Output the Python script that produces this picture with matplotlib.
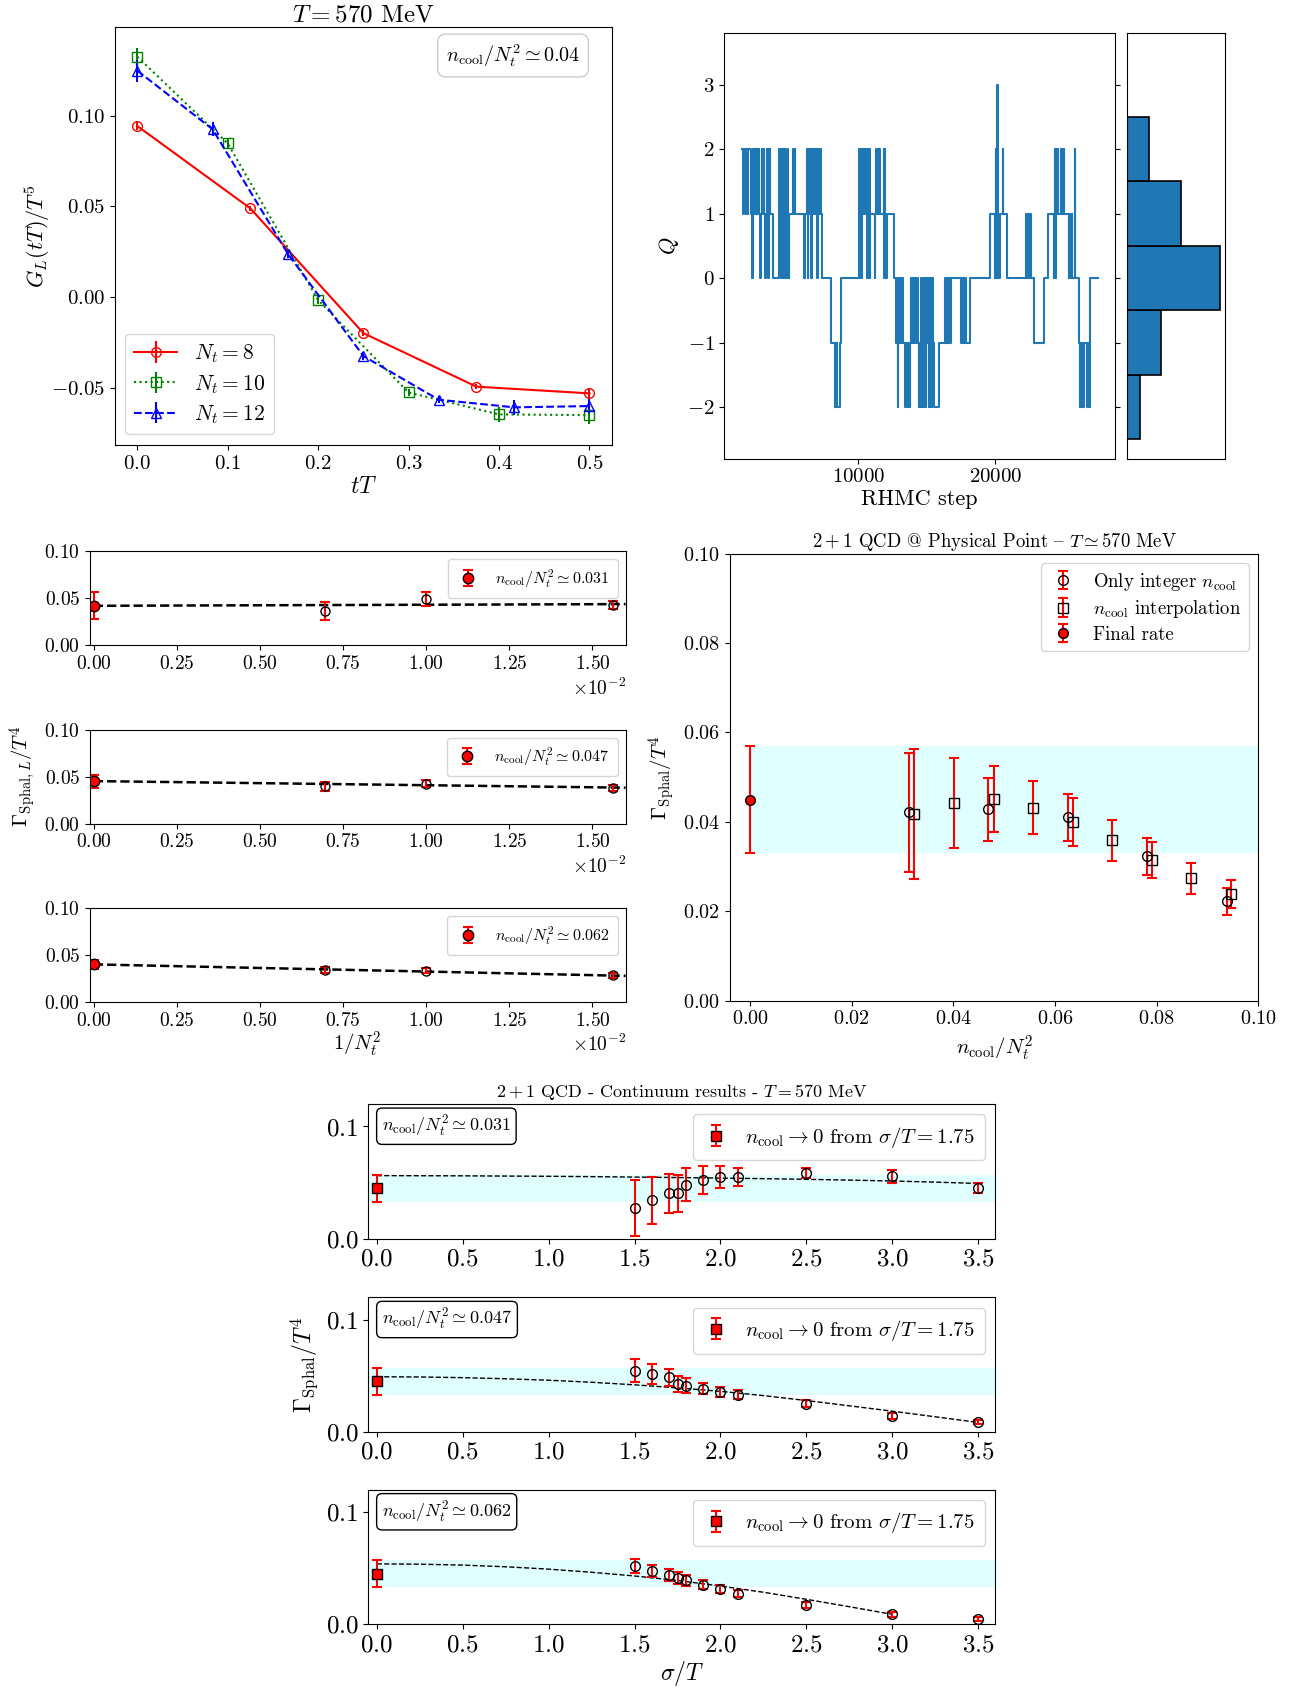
import numpy as np
import matplotlib
matplotlib.use('Agg')
import matplotlib.pyplot as plt
from matplotlib.ticker import ScalarFormatter

plt.rcParams['font.family'] = ['cmr10', 'DejaVu Serif']
plt.rcParams['mathtext.fontset'] = 'cm'
plt.rcParams['axes.formatter.use_mathtext'] = True

# ---------------- top left: G_L(tT)/T^5 ----------------
tT_8 = [0.0, 0.125, 0.25, 0.375, 0.5]
G_8 = [0.0943, 0.0489, -0.0199, -0.0494, -0.0531]
G_8_err = [0.0025, 0.0015, 0.0015, 0.0015, 0.0025]
tT_10 = [0.0, 0.1, 0.2, 0.3, 0.4, 0.5]
G_10 = [0.1325, 0.0847, -0.0017, -0.0526, -0.0647, -0.0651]
G_10_err = [0.005, 0.003, 0.002, 0.002, 0.004, 0.005]
tT_12 = [0.0, 0.0833, 0.1667, 0.25, 0.3333, 0.4167, 0.5]
G_12 = [0.1248, 0.0925, 0.0237, -0.0325, -0.0566, -0.0608, -0.0601]
G_12_err = [0.006, 0.004, 0.002, 0.002, 0.002, 0.004, 0.004]

# ---------------- top right: topological charge history ----------------
q_step = [1500, 1600, 1650, 1800, 1850, 1930, 1970, 2180, 2230, 2270, 2310, 2350,
          2390, 2430, 2470, 2510, 2550, 2590, 2630, 2670, 2710, 2750, 2830, 2870,
          2950, 2990, 3060, 3100, 3200, 3240, 3300, 3340, 3380, 3430, 3470, 3510,
          3550, 3760, 4230, 4270, 4310, 4350, 4390, 4430, 4470, 4510, 4550, 4590,
          4630, 4670, 4710, 4750, 4790, 4830, 4870, 4910, 4950, 5220, 5260, 5340,
          5380, 6030, 6080, 6250, 6290, 6330, 6370, 6410, 6450, 6490, 6540, 6580,
          6620, 6660, 6700, 6740, 6780, 6820, 6860, 6900, 6940, 6980, 7020, 7060,
          7100, 7140, 7190, 7230, 7340, 8020, 8260, 8300, 8340, 8420, 8460, 8630,
          8750, 10070, 10110, 10150, 10190, 10230, 10270, 10310, 10350, 10390, 10430, 10470,
          10510, 10550, 10590, 10630, 10670, 10710, 10750, 10790, 10830, 10870, 11180, 11230,
          11280, 11320, 11360, 11400, 11440, 11480, 11520, 11560, 11840, 11880, 11920, 11960,
          12000, 12040, 12090, 12570, 12740, 12780, 12820, 12860, 12900, 12940, 12980, 13020,
          13060, 13100, 13140, 13180, 13220, 13420, 13460, 13500, 13540, 13580, 13620, 13660,
          13700, 13740, 13780, 13860, 13900, 13940, 13980, 14030, 14070, 14110, 14150, 14190,
          14230, 14270, 14310, 14400, 14440, 14480, 14520, 14560, 14600, 14640, 14680, 14720,
          14760, 14800, 14840, 14880, 14920, 14960, 15000, 15040, 15080, 15120, 15160, 15200,
          15240, 15280, 15320, 15360, 15400, 15440, 15490, 15860, 16340, 16380, 16420, 16460,
          16500, 16540, 16580, 16620, 16660, 16700, 16780, 17510, 17550, 17590, 17630, 17670,
          17710, 17750, 17790, 17830, 18170, 19630, 19950, 19990, 20030, 20070, 20110, 20150,
          20190, 20230, 20270, 20310, 20540, 20570, 20850, 22230, 22270, 22310, 22350, 22390,
          22430, 22470, 22510, 22550, 22600, 22790, 23570, 23840, 24250, 24290, 24330, 24370,
          24410, 24450, 24490, 24530, 24570, 24810, 24850, 24890, 24930, 24970, 25010, 25350,
          25390, 25430, 25470, 25510, 25550, 25590, 25800, 25840, 26120, 26160, 26200, 26240,
          26280, 26320, 26360, 26400, 26440, 26690, 26730, 26770, 26810, 26850, 26890, 26930,
          27490]
q_val = [2, 1, 2, 1, 2, 1, 2, 1, 0, 1, 2, 1,
         2, 1, 2, 1, 2, 1, 2, 1, 2, 1, 0, 1,
         2, 1, 2, 1, 0, 1, 2, 1, 2, 0, 1, 2,
         1, 0, 2, 1, 2, 0, 2, 1, 0, 2, 0, 1,
         2, 0, 1, 0, 2, 0, 1, 0, 1, 2, 1, 2,
         1, 0, 1, 2, 0, 1, 2, 1, 2, 1, 0, 2,
         1, 2, 1, 2, 1, 2, 1, 2, 1, 0, 2, 1,
         2, 1, 2, 1, 0, -1, -2, -1, -2, -1, -2, -1,
         0, 2, 0, 2, 1, 0, 2, 1, 2, 1, 2, 1,
         2, 1, 2, 0, 2, 1, 0, 2, 0, 1, 0, 1,
         2, 1, 2, 1, 2, 1, 2, 1, 2, 0, 2, 0,
         1, 0, 1, 0, -1, 0, -1, -2, -1, 0, -1, 0,
         -1, 0, -1, 0, -1, -2, -1, -2, -1, -2, -1, -2,
         -1, -2, -1, 0, -1, 0, -1, 0, -1, 0, -1, 0,
         -1, 0, -1, -2, -1, -2, -1, 0, -2, -1, -2, 0,
         -1, -2, 0, -1, -2, 0, -1, 0, -1, -2, 0, -1,
         -2, 0, -1, -2, 0, -1, -2, -1, 0, -1, 0, -1,
         0, -1, 0, -1, 0, -1, 0, -1, 0, -1, 0, -1,
         0, -1, 0, -1, 0, 1, 0, 1, 2, 0, 3, 1,
         0, 1, 0, 1, 2, 1, 0, 1, 0, 1, 0, 1,
         0, 1, 0, 1, 0, -1, 0, 1, 0, 1, 2, 0,
         1, 2, 1, 2, 1, 2, 1, 2, 1, 2, 1, 0,
         1, 0, 1, 0, 1, 0, 2, 0, -1, -2, -1, -2,
         -1, -2, -1, -2, -1, -2, -1, -2, -1, -2, -1, 0,
         0]
q_bins = [-2, -1, 0, 1, 2, 3]
q_hist = [0.0615, 0.158, 0.427, 0.250, 0.102, 0.002]

# ---------------- middle left: continuum limit at fixed n_cool ----------------
inv_nt2 = [0.0, 0.006944, 0.01, 0.015625]
rate_031 = [0.0420, 0.0361, 0.0493, 0.0431]
err_031 = [0.0142, 0.0097, 0.0077, 0.0044]
rate_047 = [0.0453, 0.0398, 0.0427, 0.0380]
err_047 = [0.0069, 0.0047, 0.0040, 0.0030]
rate_062 = [0.0401, 0.0342, 0.0335, 0.0283]
err_062 = [0.0050, 0.0030, 0.0030, 0.0025]
fit_inv_x = [0.0, 0.016]
fit_031 = [0.0420, 0.0438]
fit_047 = [0.0453, 0.0383]
fit_062 = [0.0401, 0.0279]

# ---------------- middle right: n_cool dependence ----------------
int_x = [0.03125, 0.046875, 0.0625, 0.078125, 0.09375]
int_y = [0.0422, 0.0428, 0.0410, 0.0323, 0.0222]
int_err = [0.0133, 0.0070, 0.0053, 0.0042, 0.0030]
interp_x = [0.0323, 0.0401, 0.0479, 0.0557, 0.0635, 0.0712, 0.0790, 0.0868, 0.0946]
interp_y = [0.0418, 0.0443, 0.0451, 0.0432, 0.0400, 0.0359, 0.0315, 0.0274, 0.0238]
interp_err = [0.0145, 0.0101, 0.0074, 0.0060, 0.0053, 0.0046, 0.0041, 0.0035, 0.0031]
final_rate = 0.045
final_err = 0.012

# ---------------- bottom: smoothing-radius dependence ----------------
sigma = [1.5, 1.6, 1.7, 1.75, 1.8, 1.9, 2.0, 2.1, 2.5, 3.0, 3.5]
cont_031 = [0.0272, 0.0341, 0.0405, 0.0405, 0.0480, 0.0523, 0.0553, 0.0553, 0.0586, 0.0556, 0.0453]
cerr_031 = [0.025, 0.021, 0.0172, 0.0166, 0.0148, 0.0124, 0.0097, 0.008, 0.0048, 0.0057, 0.0047]
cont_047 = [0.0547, 0.0517, 0.0486, 0.0426, 0.0414, 0.0387, 0.0356, 0.0332, 0.0251, 0.0145, 0.0088]
cerr_047 = [0.0106, 0.009, 0.0075, 0.007, 0.0066, 0.0051, 0.0048, 0.004, 0.003, 0.0027, 0.002]
cont_062 = [0.0517, 0.0474, 0.0438, 0.0408, 0.0390, 0.0350, 0.0314, 0.0272, 0.0172, 0.0088, 0.0048]
cerr_062 = [0.0063, 0.0057, 0.005, 0.0053, 0.0048, 0.004, 0.0033, 0.003, 0.003, 0.002, 0.0015]
fit_sig = [0.0, 0.25, 0.5, 0.75, 1.0, 1.25, 1.5, 1.75, 2.0, 2.25, 2.5, 2.75, 3.0, 3.25, 3.5]
fit_c031 = [0.0562, 0.0561, 0.0560, 0.0558, 0.0556, 0.0553, 0.0549, 0.0545, 0.0540, 0.0535,
            0.0529, 0.0522, 0.0514, 0.0504, 0.0492]
fit_c047 = [0.0492, 0.0490, 0.0484, 0.0474, 0.0461, 0.0443, 0.0420, 0.0393, 0.0362, 0.0324,
            0.0280, 0.0233, 0.0185, 0.0135, 0.0085]
fit_sig_062 = [0.0, 0.25, 0.5, 0.75, 1.0, 1.25, 1.5, 1.75, 2.0, 2.25, 2.5, 2.75, 3.0]
fit_c062 = [0.0538, 0.0535, 0.0527, 0.0512, 0.0491, 0.0463, 0.0430, 0.0390, 0.0340, 0.0285,
            0.0222, 0.0156, 0.0088]
ncool_labels = ['0.031', '0.047', '0.062']

red = 'red'
eb = dict(ecolor=red, elinewidth=1.5, capsize=3.5, capthick=1.5)

fig = plt.figure(figsize=(13.04, 16.91), dpi=100)

# ===== top left =====
ax = fig.add_axes([0.0879, 0.7368, 0.3815, 0.2474])
ax.errorbar(tT_8, G_8, yerr=G_8_err, color='r', ls='-', marker='o', mfc='none', ms=7, lw=1.5,
            label=r'$N_t = 8$')
ax.errorbar(tT_10, G_10, yerr=G_10_err, color='g', ls=':', marker='s', mfc='none', ms=7, lw=1.5,
            label=r'$N_t = 10$')
ax.errorbar(tT_12, G_12, yerr=G_12_err, color='b', ls='--', marker='^', mfc='none', ms=7, lw=1.5,
            label=r'$N_t = 12$')
ax.set_xlim(-0.025, 0.525)
ax.set_ylim(-0.0816, 0.149)
ax.set_xticks([0.0, 0.1, 0.2, 0.3, 0.4, 0.5])
ax.set_yticks([-0.05, 0.0, 0.05, 0.10])
ax.tick_params(labelsize=15)
ax.set_xlabel(r'$tT$', fontsize=17, labelpad=2)
ax.set_ylabel(r'$G_L(tT)/T^5$', fontsize=16, labelpad=-1)
ax.set_title(r'$T = 570$ MeV', fontsize=18, pad=4)
ax.legend(loc='lower left', fontsize=15.5, handlelength=2.0, labelspacing=0.35)
ax.text(0.936, 0.963, r'$n_{\rm cool}/N_t^2 \simeq 0.04$', transform=ax.transAxes,
        ha='right', va='top', fontsize=14.5,
        bbox=dict(boxstyle='round,pad=0.4', fc='white', ec='0.8'))

# ===== top right: Q history + histogram =====
axq = fig.add_axes([0.5554, 0.7288, 0.2994, 0.2517])
axq.plot(q_step, q_val, drawstyle='steps-post', color='#1f77b4', lw=1.5)
axq.set_ylim(-2.8, 3.8)
axq.set_xlim(200, 28700)
axq.set_xticks([10000, 20000])
axq.set_yticks([-2, -1, 0, 1, 2, 3])
axq.tick_params(labelsize=15, right=True)
axq.set_xlabel('RHMC step', fontsize=16, labelpad=2)
axq.set_ylabel(r'$Q$', fontsize=16)

axh = fig.add_axes([0.8641, 0.7288, 0.0752, 0.2517])
axh.barh(q_bins, q_hist, height=1.0, color='#1f77b4', edgecolor='black', linewidth=1.2)
axh.set_ylim(-2.8, 3.8)
axh.set_xlim(0, max(q_hist) * 1.05)
axh.set_xticks([])
axh.set_yticks([])

# ===== middle left: three continuum extrapolations =====
ml_bottoms = [0.6184, 0.5129, 0.4074]
ml_rates = [rate_031, rate_047, rate_062]
ml_errs = [err_031, err_047, err_062]
ml_fits = [fit_031, fit_047, fit_062]
for i in range(3):
    a = fig.add_axes([0.0689, ml_bottoms[i], 0.4109, 0.0556])
    a.plot(fit_inv_x, ml_fits[i], 'k--', lw=1.8, zorder=1)
    a.errorbar(inv_nt2[1:], ml_rates[i][1:], yerr=ml_errs[i][1:], fmt='o', mfc='none', mec='k',
               ms=6.5, **eb)
    a.errorbar(inv_nt2[:1], ml_rates[i][:1], yerr=ml_errs[i][:1], fmt='o', mfc=red, mec='k',
               ms=7.5, label=r'$n_{\rm cool}/N_t^2 \simeq %s$' % ncool_labels[i], **eb)
    a.set_xlim(-0.00012, 0.016)
    a.set_ylim(0, 0.10)
    a.set_yticks([0.0, 0.05, 0.10])
    a.set_xticks([0.0, 0.0025, 0.005, 0.0075, 0.01, 0.0125, 0.015])
    fmt = ScalarFormatter(useMathText=True)
    fmt.set_powerlimits((0, 0))
    a.xaxis.set_major_formatter(fmt)
    a.tick_params(labelsize=14)
    a.xaxis.get_offset_text().set_fontsize(14)
    a.legend(loc='upper right', fontsize=11.5, handlelength=1.6, handletextpad=0.9,
             borderpad=0.5)
    if i == 1:
        a.set_ylabel(r'$\Gamma_{{\rm Sphal},L}/T^4$', fontsize=15, labelpad=4)
    if i == 2:
        a.set_xlabel(r'$1/N_t^2$', fontsize=15, labelpad=0)

# ===== middle right: n_cool dependence =====
ar = fig.add_axes([0.5597, 0.4082, 0.4053, 0.2644])
ar.fill_between([0.0, 0.1], final_rate - final_err, final_rate + final_err, color='lightcyan',
                lw=0, zorder=0)
ar.errorbar(int_x, int_y, yerr=int_err, fmt='o', mfc='none', mec='k', ms=7,
            label=r'Only integer $n_{\rm cool}$', **eb)
ar.errorbar(interp_x, interp_y, yerr=interp_err, fmt='s', mfc='none', mec='k', ms=7,
            label=r'$n_{\rm cool}$ interpolation', **eb)
ar.errorbar([0.0], [final_rate], yerr=[final_err], fmt='o', mfc=red, mec='k', ms=7,
            label='Final rate', **eb)
ar.set_xlim(-0.004, 0.1)
ar.set_ylim(0, 0.1)
ar.set_xticks([0.0, 0.02, 0.04, 0.06, 0.08, 0.10])
ar.set_yticks([0.0, 0.02, 0.04, 0.06, 0.08, 0.10])
ar.tick_params(labelsize=14.5)
ar.set_xlabel(r'$n_{\rm cool}/N_t^2$', fontsize=15)
ar.set_ylabel(r'$\Gamma_{\rm Sphal}/T^4$', fontsize=15)
ar.set_title(r'$2+1$ QCD @ Physical Point { $T \simeq 570$ MeV', fontsize=13.5, pad=5)
ar.legend(loc='upper right', fontsize=13.5, handletextpad=0.8, handlelength=1.6,
          labelspacing=0.3)

# ===== bottom: sigma/T dependence =====
b_bottoms = [0.2675, 0.1532, 0.0395]
b_rates = [cont_031, cont_047, cont_062]
b_errs = [cerr_031, cerr_047, cerr_062]
b_fitx = [fit_sig, fit_sig, fit_sig_062]
b_fity = [fit_c031, fit_c047, fit_c062]
for i in range(3):
    a = fig.add_axes([0.2824, b_bottoms[i], 0.4809, 0.0796])
    a.axhspan(final_rate - final_err, final_rate + final_err, color='lightcyan', lw=0, zorder=0)
    a.plot(b_fitx[i], b_fity[i], 'k--', lw=1.0, zorder=1)
    a.errorbar(sigma, b_rates[i], yerr=b_errs[i], fmt='o', mfc='none', mec='k', ms=7, **eb)
    a.errorbar([0.0], [final_rate], yerr=[final_err], fmt='s', mfc=red, mec='k', ms=7,
               label=r'$n_{\rm cool} \to 0$ from $\sigma/T = 1.75$', **eb)
    a.set_xlim(-0.05, 3.6)
    a.set_ylim(0, 0.12)
    a.set_yticks([0.0, 0.1])
    a.set_xticks([0.0, 0.5, 1.0, 1.5, 2.0, 2.5, 3.0, 3.5])
    a.tick_params(labelsize=18)
    a.legend(loc='upper right', fontsize=15, handletextpad=0.8, handlelength=1.2, borderpad=0.5)
    a.text(0.022, 0.93, r'$n_{\rm cool}/N_t^2 \simeq %s$' % ncool_labels[i], transform=a.transAxes,
           ha='left', va='top', fontsize=13,
           bbox=dict(boxstyle='round,pad=0.3', fc='white', ec='black'))
    if i == 0:
        a.set_title(r'$2+1$ QCD - Continuum results - $T = 570$ MeV', fontsize=13, pad=5)
    if i == 1:
        a.set_ylabel(r'$\Gamma_{\rm Sphal}/T^4$', fontsize=17)
    if i == 2:
        a.set_xlabel(r'$\sigma/T$', fontsize=17, labelpad=2)

fig.savefig('out.png', dpi=100)
